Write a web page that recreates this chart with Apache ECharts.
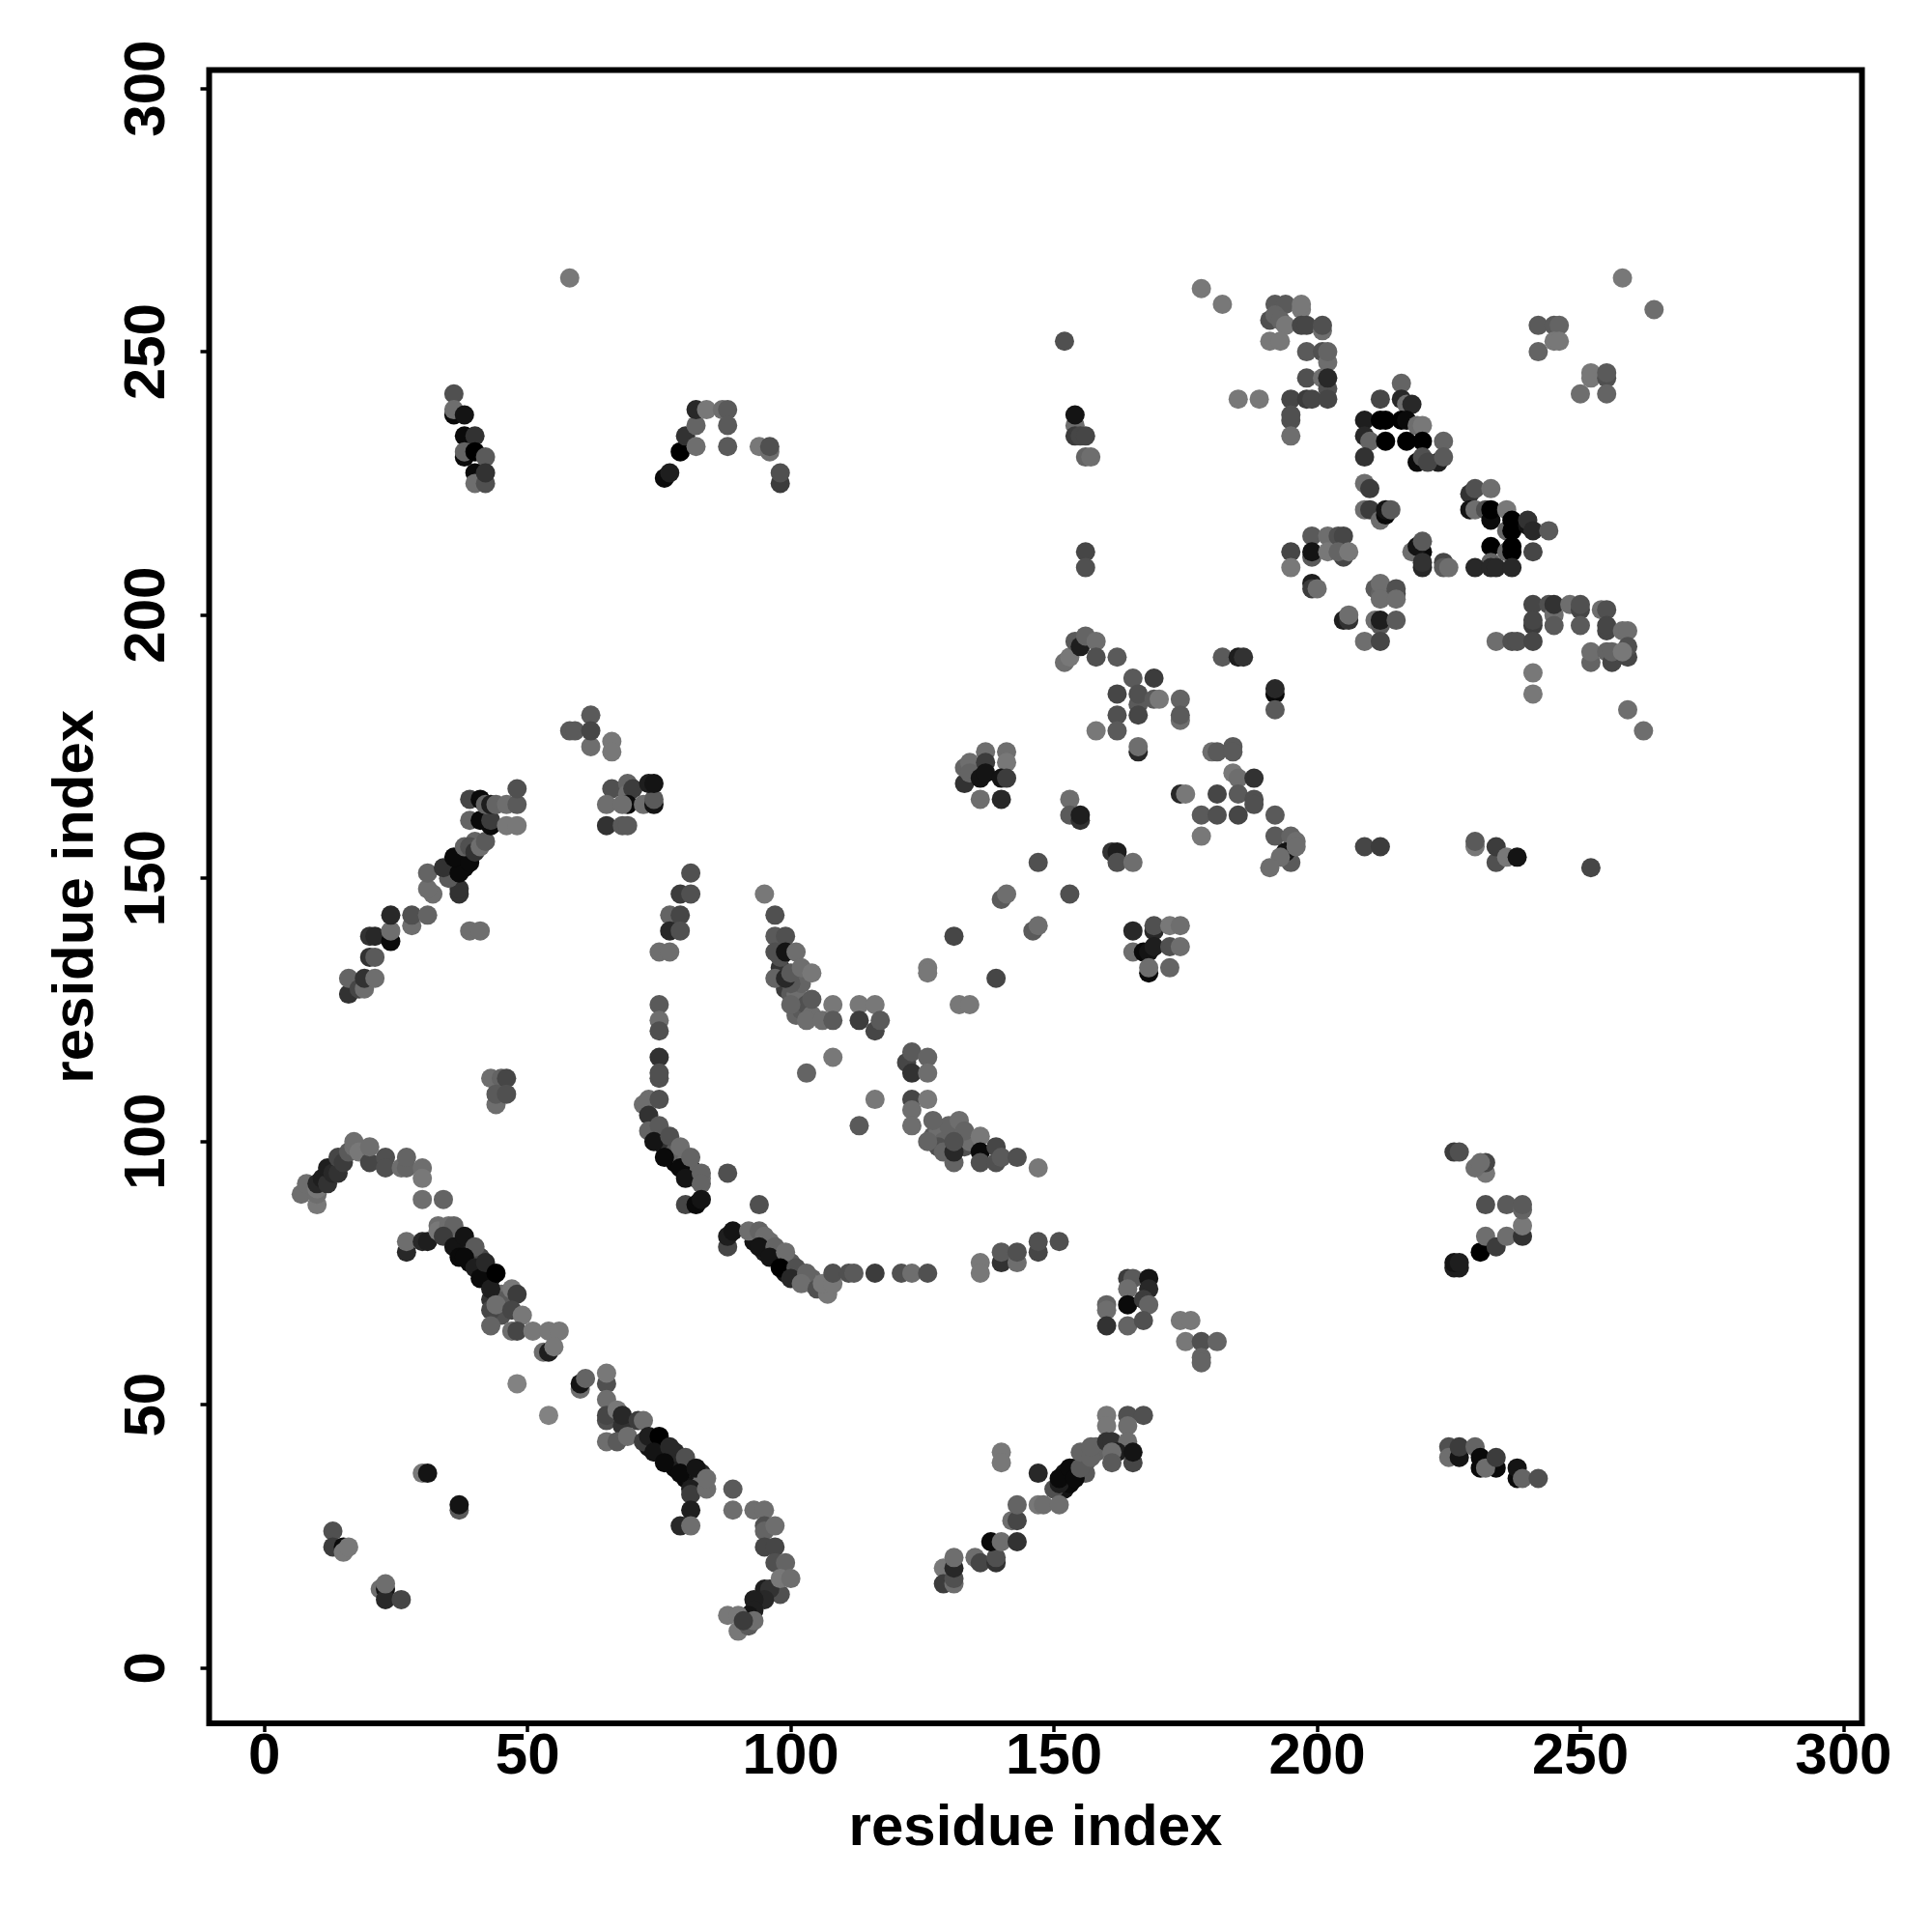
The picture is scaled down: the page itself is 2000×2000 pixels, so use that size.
<!DOCTYPE html>
<html><head><meta charset="utf-8">
<style>html,body{margin:0;padding:0;background:#fff}#c{width:2000px;height:2000px}</style>
<script src="https://cdn.jsdelivr.net/npm/echarts@6/dist/echarts.min.js"></script>
</head><body><div id="c"></div>
<script>
// each contact: [residue i, residue j, shade]  (shade*10 = grey level)
const tickValues=[0,50,100,150,200,250,300];
const axisTitle="residue index";
const chainDetail=[[74,103,8],[75,100,3],[76,99,5],[78,96,1],[81,95,1],[81,94,2],[78,98,9],[79,97,10],[80,96,11],[82,94,10],[82,93,10],[83,93,11],[93,81,2],[95,79,3],[97,78,1],[99,75,2],[101,74,3],[96,81,11],[98,78,9],[100,77,9],[102,75,11],[104,74,10],[104,73,12],[35,82,3],[37,81,2],[37,79,1],[39,79,3],[39,77,1],[41,76,2],[42,75,1],[43,74,2],[36,82,11],[41,78,7],[43,70,5],[45,71,11],[46,70,9],[45,67,8],[73,42,2],[75,42,2],[76,41,3],[78,38,1],[79,39,3],[80,36,1],[81,36,2],[78,41,4],[80,38,3],[83,37,4],[83,35,11],[152,34,2],[152,37,2],[152,36,1],[153,35,1],[154,38,2],[155,37,3],[150,34,8],[156,39,9],[156,37,9],[158,41,10],[158,42,10],[35,152,3],[36,151,1],[37,153,1],[38,154,1],[38,152,1],[39,154,4],[40,157,10],[98,138,3],[98,133,5],[99,129,6],[98,135,8],[100,128,9],[101,128,11],[102,130,10],[100,130,9],[101,124,10],[102,125,9],[103,126,8],[104,124,11],[127,101,9],[128,102,11],[129,100,10],[130,103,10],[133,99,8],[134,100,11],[128,99,8],[129,98,10]];
const lowerLeft=[[13,26,8],[13,23,6],[15,23,1],[15,22,12],[16,23,12],[22,15,11],[23,15,2],[23,13,4],[23,16,11],[26,13,7],[30,37,12],[31,37,2],[37,30,9],[37,31,2]];
const arcA=[[7,90,11],[10,88,12],[8,92,11],[10,90,11],[10,91,12],[10,92,4],[11,93,3],[12,92,5],[12,95,3],[13,94,4],[14,94,5],[14,97,7],[15,96,6],[16,98,9],[17,99,11],[17,100,11],[18,98,12],[20,96,7],[20,99,11],[23,97,8],[23,95,8],[26,95,11],[27,95,10],[27,97,10],[30,95,11],[30,93,12],[30,89,11],[34,89,10]];
const arcB=[[27,79,4],[27,81,11],[30,81,4],[31,81,3],[33,84,11],[33,83,12],[35,84,11],[36,84,10],[34,82,6],[36,80,2],[37,78,1],[38,82,2],[40,80,9],[38,78,1],[40,76,3],[41,74,1],[42,77,4],[43,72,3],[44,75,0],[43,68,7],[44,69,11],[43,65,10],[47,72,12],[48,71,6],[47,68,7],[49,67,12],[47,64,11],[48,64,7],[51,64,12],[54,64,12],[56,64,12],[53,60,11],[54,60,3],[55,61,12],[48,54,13],[54,48,13]];
const arcC=[[60,53,11],[60,54,2],[61,55,10],[65,54,8],[65,56,12],[65,51,11],[65,47,8],[65,48,7],[67,49,12],[68,46,5],[68,48,4],[65,43,11],[67,43,9],[69,44,11],[71,47,6],[72,47,11],[72,43,6],[73,44,3],[75,44,0],[74,41,2],[77,42,4],[76,39,1],[80,40,8],[79,37,1],[82,38,2],[81,34,3],[81,33,6],[84,34,11],[84,36,11],[81,30,3],[79,27,4],[81,27,11],[89,34,9],[89,30,11],[93,30,11],[95,30,11],[95,27,8],[95,26,10],[97,27,11],[95,23,7],[97,23,7],[97,20,8],[99,20,10],[98,14,8],[95,15,3],[96,15,5],[98,17,12],[100,17,11],[95,13,4],[93,13,3],[93,11,3],[92,10,2],[90,7,12],[92,8,9],[88,10,12],[90,10,12],[93,9,11],[91,9,6]];
const arcD=[[75,126,9],[75,123,11],[75,121,8],[75,116,5],[75,112,8],[75,113,8],[72,107,11],[73,108,11],[73,105,5],[75,108,8],[73,102,10],[75,103,9],[74,100,2],[77,101,8],[76,97,1],[79,99,11],[79,95,1],[81,97,10],[80,93,2],[83,94,10],[83,92,10],[80,88,7],[82,88,1],[83,89,2],[88,94,8],[94,88,8]];
const arcE=[[88,80,7],[88,82,3],[89,83,2],[92,83,11],[94,83,10],[95,82,11],[94,80,2],[97,80,10],[96,78,2],[99,79,11],[98,76,0],[101,76,8],[100,74,4],[103,75,10],[102,73,11],[105,72,8],[107,71,12],[106,73,12],[108,73,12],[108,75,8],[111,75,8],[112,75,9],[116,75,6],[121,75,8],[123,75,11],[126,75,8]];
const cross=[[136,77,12],[136,75,12],[140,77,5],[140,79,9],[143,77,11],[143,79,8],[147,79,7],[147,81,8],[151,81,8],[160,69,10],[160,68,11],[160,65,5],[164,74,6],[165,74,9],[168,74,2],[168,72,4],[164,72,11],[164,69,1],[164,65,10],[167,70,6],[168,69,10],[167,66,8],[174,66,12],[176,66,12],[175,62,12],[178,62,8],[181,62,10],[178,59,10],[178,58,10]];
const rising=[[129,19,12],[129,16,6],[131,16,11],[131,17,8],[131,19,4],[131,21,11],[135,21,11],[136,20,7],[139,20,5],[139,21,8],[138,24,1],[140,24,11],[143,24,5],[142,28,11],[143,28,7],[143,31,10],[147,31,12],[148,31,11],[151,31,11],[147,37,4],[151,35,3],[151,36,1],[153,38,1],[154,36,1],[155,38,9],[155,41,10],[157,40,10],[157,42,10],[140,41,12],[140,39,12],[160,48,12],[160,46,12],[164,48,8],[167,48,8],[164,46,11],[160,43,5],[161,43,5],[164,43,11],[162,41,3],[161,41,11],[161,39,9],[165,39,7],[165,41,2]];
const rightLow=[[225,42,8],[225,40,11],[227,40,2],[227,42,6],[230,42,10],[231,38,1],[231,40,1],[234,38,1],[232,38,11],[234,40,6],[238,36,1],[238,38,2],[239,36,10],[242,36,8],[226,76,3],[227,76,3],[226,77,2],[227,77,3],[231,79,0],[232,82,11],[234,80,6],[236,82,11],[239,82,5],[239,84,12],[232,88,8],[236,88,9],[239,87,10],[239,88,9],[232,94,12],[230,95,11],[232,96,7],[231,96,11],[226,98,6],[227,98,8]];
const topLeft=[[58,264,12],[36,242,8],[36,238,1],[36,239,11],[38,238,2],[38,234,1],[40,234,5],[38,230,1],[38,231,10],[40,231,0],[42,230,9],[40,227,1],[40,225,11],[42,225,8],[42,227,5],[76,226,1],[77,227,3],[79,231,0],[80,234,5],[82,232,11],[82,236,10],[82,239,4],[84,239,12],[87,239,11],[88,239,9],[88,236,9],[88,232,9],[94,232,12],[96,231,11],[96,232,8],[98,225,6],[98,227,8],[152,252,8],[154,236,11],[154,238,2],[154,234,6],[155,234,7],[156,234,7],[156,230,10],[157,230,11],[156,212,7],[156,209,8]];
const topRightA=[[178,262,12],[182,259,12],[192,259,9],[194,259,9],[197,258,12],[197,259,12],[191,256,8],[192,257,10],[193,256,10],[194,255,12],[197,255,7],[198,255,7],[201,254,11],[201,255,8],[191,252,12],[193,252,12],[198,250,9],[201,250,8],[202,248,11],[202,250,10],[198,245,8],[201,245,11],[202,243,8],[202,245,4],[185,241,12],[189,241,12],[195,241,7],[198,241,6],[199,241,7],[202,241,7],[195,237,8],[195,238,8],[195,234,11]];
const topRightB=[[216,244,10],[212,241,7],[216,241,4],[217,240,11],[218,240,4],[209,237,3],[212,237,0],[213,237,0],[216,237,0],[217,237,1],[219,236,11],[220,236,12],[209,234,4],[210,233,10],[213,233,0],[217,233,0],[220,233,0],[224,233,10],[209,230,5],[219,229,1],[220,230,8],[223,229,3],[221,229,7],[224,230,9]];
const topRightC=[[209,225,11],[210,224,6],[209,220,11],[210,220,6],[212,218,11],[213,219,1],[213,220,2],[214,220,9],[229,223,5],[230,224,8],[233,224,11],[229,220,2],[230,220,11],[232,220,8],[233,218,1],[233,220,0],[236,220,12],[236,216,10],[237,218,0],[237,216,0],[240,217,2],[240,218,5],[241,216,4],[244,216,9],[233,213,0],[236,212,10],[237,212,0],[237,213,0],[241,212,7],[233,210,10],[230,209,4],[233,209,4],[234,209,4],[237,209,4]];
const topRightD=[[199,215,9],[202,215,11],[204,215,8],[205,215,7],[195,212,7],[199,211,9],[199,212,2],[202,212,12],[205,211,7],[204,212,10],[206,212,12],[195,209,12],[199,206,3],[199,205,6],[200,205,11],[220,212,1],[218,212,11],[219,213,2],[220,214,9],[220,209,4],[220,210,5],[224,210,7],[224,209,9],[225,209,11],[211,205,9],[212,204,10],[212,206,11],[215,204,7],[215,205,8],[212,203,11],[215,203,11],[211,199,11],[212,198,9],[212,199,3],[215,199,9],[205,199,3],[206,199,5],[206,200,11],[209,195,11],[212,195,7]];
const topRightE=[[241,202,7],[244,202,8],[245,200,11],[245,202,5],[248,202,11],[250,201,7],[250,202,8],[254,201,11],[255,201,8],[241,198,6],[241,199,7],[245,198,9],[250,198,9],[234,195,11],[237,195,8],[238,195,8],[241,195,7],[255,197,7],[255,198,7],[258,197,11],[259,197,11],[252,191,10],[252,193,11],[255,193,10],[256,191,7],[256,193,10],[259,192,7],[259,194,8],[258,193,12],[241,189,12],[241,185,12],[259,182,11],[262,178,11],[242,255,9],[245,255,9],[246,255,10],[245,252,12],[246,252,12],[242,250,10],[252,245,12],[252,246,12],[255,245,8],[255,246,9],[250,242,11],[255,242,10],[258,264,12],[264,258,11]];
const middle=[[182,192,9],[185,192,3],[186,192,5],[192,185,1],[192,186,4],[192,182,9],[152,191,11],[153,192,12],[154,195,9],[155,194,3],[156,196,10],[158,195,11],[158,192,8],[162,192,9],[165,188,9],[169,188,6],[162,185,7],[166,183,9],[166,185,8],[169,184,9],[170,184,12],[174,184,10],[174,180,11],[174,181,9],[162,181,8],[166,181,7],[158,178,12],[162,178,9],[166,174,4],[166,175,11],[180,174,11],[181,174,9],[184,175,9],[184,174,9],[184,170,12],[185,169,11],[188,169,5],[174,166,4],[175,166,12],[181,166,7],[185,166,9],[188,165,8],[188,164,8],[178,162,9],[181,162,8],[185,162,7],[192,162,9],[178,158,12],[192,158,9],[195,158,10],[195,153,9],[194,155,2],[193,154,11],[191,152,11],[196,157,11],[196,156,11],[209,156,7],[212,156,6],[230,156,12],[230,157,9],[234,153,8],[234,156,6],[236,154,12],[238,154,2],[252,152,7]];
const middleLow=[[133,168,5],[133,171,10],[134,172,11],[134,170,10],[137,174,11],[137,172,6],[141,174,11],[141,172,12],[136,169,2],[137,170,2],[140,169,2],[141,169,6],[136,165,11],[140,165,4],[153,165,11],[153,162,9],[155,161,5],[155,162,3],[161,155,5],[162,155,3],[162,153,8],[165,153,11],[147,153,8],[153,147,8],[140,146,9],[141,147,11],[146,140,9],[147,141,11],[165,140,4],[169,140,4],[169,141,8],[172,141,12],[174,141,11],[165,136,11],[167,136,1],[168,136,2],[169,137,3],[172,137,8],[174,137,11],[168,132,1],[168,133,11],[172,133,10],[139,131,7],[131,139,7],[132,126,12],[134,126,12],[126,133,12],[126,132,12]];
const upperArc=[[16,128,5],[16,131,10],[18,129,7],[19,129,11],[19,131,5],[21,131,11],[20,135,5],[21,135,9],[20,139,5],[21,139,4],[24,138,1],[24,140,11],[24,143,4],[28,141,11],[28,143,8],[31,143,10],[32,147,11],[31,148,11],[31,151,10],[37,147,5],[37,148,5],[35,150,9],[34,152,5],[37,151,1],[36,154,1],[39,153,1],[38,156,10],[39,156,8],[40,155,5],[41,156,11],[42,157,9],[39,140,11],[41,140,11],[39,161,10],[41,161,1],[43,160,1],[43,161,6],[39,165,7],[41,165,1],[42,164,10],[43,164,3],[44,164,10],[46,164,11],[46,160,12],[48,160,12],[48,164,9],[48,167,8]];
const upperMid=[[62,181,9],[58,178,9],[59,178,9],[62,175,11],[62,178,7],[66,176,12],[66,174,12],[66,167,8],[69,168,10],[69,166,11],[70,167,6],[69,164,1],[65,164,11],[68,164,11],[72,164,11],[74,164,2],[74,165,9],[73,168,3],[74,168,2],[65,160,5],[68,160,9],[69,160,9],[81,151,8],[79,147,6],[81,147,8],[77,143,10],[79,143,7],[77,140,4],[79,140,8],[75,136,11],[77,136,11],[43,112,11],[45,112,10],[46,112,7],[44,107,11],[44,109,9],[46,109,8]];
const crescent=[[95,147,12],[97,143,8],[97,139,9],[99,139,8],[97,136,8],[99,136,2],[101,136,11],[97,131,10],[99,131,4],[100,132,9],[102,133,11],[104,132,12],[100,126,10],[104,127,9],[108,126,12],[103,123,11],[106,123,11],[108,123,9],[113,126,12],[116,126,12],[113,123,6],[116,121,7],[117,123,9],[108,116,12],[103,113,10],[122,115,7],[123,117,9],[126,116,10],[123,113,5],[126,113,11],[116,108,12],[113,103,9],[123,108,7],[126,108,12],[123,106,11],[123,103,11],[127,104,10],[126,100,10],[132,104,11],[133,102,10],[131,96,10],[131,98,4],[131,100,8],[136,101,12],[136,98,1],[139,99,7],[136,96,8],[139,96,8],[140,97,9],[143,97,8],[147,95,12]];

const contacts=[].concat(chainDetail,lowerLeft,arcA,arcB,arcC,arcD,arcE,cross,rising,rightLow,topLeft,topRightA,topRightB,topRightC,topRightD,topRightE,middle,middleLow,upperArc,upperMid,crescent);
const font='"Liberation Sans"';
function axis(extra){return Object.assign({type:'value',min:-10.5,max:303.5,splitLine:{show:false},axisLine:{show:false,onZero:false},
  axisTick:{show:true,customValues:tickValues,length:9,lineStyle:{color:'#000',width:3.5}},
  name:axisTitle,nameLocation:'middle',nameTextStyle:{fontFamily:font,fontWeight:'bold',fontSize:60,color:'#000'}},extra);}
const lab={show:true,customValues:tickValues,fontFamily:font,fontWeight:'bold',fontSize:60,color:'#000'};
const chart=echarts.init(document.getElementById('c'),null,{renderer:'canvas'});
chart.setOption({animation:false,backgroundColor:'#fff',
  grid:{show:true,left:216.5,top:72.5,width:1711,height:1711.5,borderColor:'#000',borderWidth:6,backgroundColor:'transparent'},
  xAxis:axis({nameGap:79,axisLabel:Object.assign({},lab,{margin:5})}),
  yAxis:axis({nameGap:107,nameRotate:90,axisLabel:Object.assign({},lab,{rotate:90,margin:33})}),
  series:[{type:'scatter',symbol:'circle',symbolSize:20,data:contacts,
    itemStyle:{color:p=>{const g=p.value[2]*10;return 'rgb('+g+','+g+','+g+')';},opacity:1}}]});
</script></body></html>
